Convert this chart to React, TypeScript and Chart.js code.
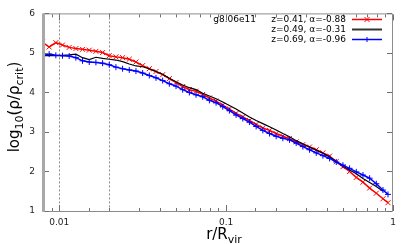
import React, { useEffect, useRef } from 'react';
import { Chart, registerables } from 'chart.js';

Chart.register(...registerables);

// r / R_vir sample radii
const radii = [
  0.00794, 0.00871, 0.00955, 0.01047, 0.01148, 0.01259, 0.0138, 0.01514, 0.0166, 0.0182,
  0.01995, 0.02188, 0.02399, 0.0263, 0.02884, 0.03162, 0.03467, 0.03802, 0.04169, 0.04571,
  0.05012, 0.05495, 0.06026, 0.06607, 0.07244, 0.07943, 0.0871, 0.0955, 0.1047, 0.1148,
  0.1259, 0.138, 0.1514, 0.166, 0.182, 0.1995, 0.2188, 0.2399, 0.263, 0.2884,
  0.3162, 0.3467, 0.3802, 0.4169, 0.4571, 0.5012, 0.5495, 0.6026, 0.6607, 0.7244,
  0.7943, 0.871, 0.9333,
];

const redValues = [
  5.27, 5.15, 5.26, 5.2, 5.14, 5.11, 5.09, 5.07, 5.04, 5.01,
  4.93, 4.9, 4.88, 4.84, 4.77, 4.68, 4.6, 4.53, 4.45, 4.35,
  4.25, 4.15, 4.07, 4.03, 3.95, 3.86, 3.78, 3.68, 3.58, 3.47,
  3.38, 3.29, 3.19, 3.1, 3.04, 2.96, 2.89, 2.83, 2.75, 2.68,
  2.62, 2.55, 2.47, 2.39, 2.25, 2.12, 2.0, 1.85, 1.73, 1.58,
  1.45, 1.31, 1.21,
];

const blackValues = [
  4.93, 4.93, 4.93, 4.94, 4.95, 4.97, 4.88, 4.83, 4.89, 4.86,
  4.84, 4.82, 4.78, 4.72, 4.67, 4.65, 4.6, 4.53, 4.46, 4.36,
  4.27, 4.19, 4.12, 4.07, 3.98, 3.91, 3.84, 3.76, 3.67, 3.58,
  3.48, 3.38, 3.29, 3.21, 3.13, 3.05, 2.96, 2.88, 2.78, 2.7,
  2.62, 2.54, 2.46, 2.37, 2.25, 2.14, 2.04, 1.94, 1.82, 1.72,
  1.62, 1.5, null,
];

const blueValues = [
  4.93, 4.97, 4.94, 4.93, 4.92, 4.88, 4.8, 4.77, 4.76, 4.74,
  4.7, 4.64, 4.6, 4.57, 4.54, 4.49, 4.43, 4.37, 4.3, 4.22,
  4.16, 4.07, 4.0, 3.94, 3.89, 3.8, 3.74, 3.64, 3.54, 3.43,
  3.34, 3.25, 3.14, 3.04, 2.96, 2.89, 2.84, 2.8, 2.72, 2.63,
  2.55, 2.47, 2.4, 2.33, 2.24, 2.16, 2.08, 1.99, 1.91, 1.83,
  1.69, 1.53, 1.42,
];

const seriesLabels = ['z=0.41, α=-0.88', 'z=0.49, α=-0.31', 'z=0.69, α=-0.96'];
const seriesColors = ['#ff0000', '#000000', '#0000ff'];
const haloName = 'g8.06e11';
const markerRadii = [0.01, 0.02];
const xRange = [0.008, 1];
const yRange = [1, 6];

const FONT = '"DejaVu Sans", sans-serif';

type Seg = { t: string; sub?: boolean };
const yTitle: Seg[] = [{ t: 'log' }, { t: '10', sub: true }, { t: '(ρ/ρ' }, { t: 'crit', sub: true }, { t: ')' }];
const xTitle: Seg[] = [{ t: 'r/R' }, { t: 'vir', sub: true }];

function drawSegs(ctx: CanvasRenderingContext2D, segs: Seg[], cx: number, baseline: number) {
  const big = `15px ${FONT}`;
  const small = `11px ${FONT}`;
  let total = 0;
  const widths = segs.map((s) => {
    ctx.font = s.sub ? small : big;
    const w = ctx.measureText(s.t).width;
    total += w;
    return w;
  });
  let x = cx - total / 2;
  ctx.textAlign = 'left';
  ctx.textBaseline = 'alphabetic';
  segs.forEach((s, i) => {
    ctx.font = s.sub ? small : big;
    ctx.fillText(s.t, x, baseline + (s.sub ? 4 : 0));
    x += widths[i];
  });
}

function isDecade(v: number) {
  const l = Math.log10(v);
  return Math.abs(l - Math.round(l)) < 1e-6;
}

const framePlugin = {
  id: 'gnuFrame',
  beforeDatasetsDraw(chart: any) {
    const { ctx, chartArea: a, scales } = chart;
    const x = scales.x;
    ctx.save();
    ctx.strokeStyle = '#8a8a8a';
    ctx.lineWidth = 1;
    ctx.setLineDash([2, 2]);
    markerRadii.forEach((r) => {
      const px = Math.round(x.getPixelForValue(r)) + 0.5;
      ctx.beginPath();
      ctx.moveTo(px, a.top);
      ctx.lineTo(px, a.bottom);
      ctx.stroke();
    });
    ctx.restore();
  },
  afterDraw(chart: any) {
    const { ctx, chartArea: a, scales } = chart;
    const x = scales.x;
    const y = scales.y;
    ctx.save();
    // frame
    ctx.strokeStyle = '#8c8c8c';
    ctx.lineWidth = 1;
    ctx.beginPath();
    ctx.moveTo(a.left, a.top + 0.5);
    ctx.lineTo(a.right - 0.5, a.top + 0.5);
    ctx.lineTo(a.right - 0.5, a.bottom + 0.5);
    ctx.lineTo(a.left, a.bottom + 0.5);
    ctx.stroke();
    ctx.strokeStyle = '#a8a8a8';
    ctx.lineWidth = 3;
    ctx.beginPath();
    ctx.moveTo(a.left + 0.5, a.top);
    ctx.lineTo(a.left + 0.5, a.bottom + 1);
    ctx.stroke();

    // ticks
    ctx.strokeStyle = '#707070';
    ctx.lineWidth = 1;
    x.ticks.forEach((t: any) => {
      const px = Math.round(x.getPixelForValue(t.value)) + 0.5;
      if (px < a.left + 2 || px > a.right + 1) return;
      const len = isDecade(t.value) ? 6 : 3;
      ctx.beginPath();
      ctx.moveTo(px, a.bottom);
      ctx.lineTo(px, a.bottom - len);
      ctx.moveTo(px, a.top + 1);
      ctx.lineTo(px, a.top + 1 + len);
      ctx.stroke();
    });
    y.ticks.forEach((t: any) => {
      const py = Math.round(y.getPixelForValue(t.value)) + 0.5;
      ctx.beginPath();
      ctx.moveTo(a.left + 2, py);
      ctx.lineTo(a.left + 6, py);
      ctx.moveTo(a.right - 1, py);
      ctx.lineTo(a.right - 6, py);
      ctx.stroke();
    });

    // axis titles
    ctx.fillStyle = '#000';
    drawSegs(ctx, xTitle, 224, 239);
    ctx.save();
    ctx.translate(19, 107);
    ctx.rotate(-Math.PI / 2);
    drawSegs(ctx, yTitle, 0, 0);
    ctx.restore();

    // key
    ctx.font = `9px ${FONT}`;
    ctx.fillStyle = '#000';
    ctx.textAlign = 'right';
    ctx.textBaseline = 'middle';
    ctx.fillText(haloName, 256, 19.5);
    const rows = [19.5, 29.5, 39.5];
    chart.data.datasets.forEach((ds: any, i: number) => {
      const ry = rows[i];
      ctx.fillStyle = '#000';
      ctx.textAlign = 'right';
      ctx.fillText(ds.label, 346, ry);
      ctx.strokeStyle = i === 1 ? '#333' : ds.borderColor;
      ctx.lineWidth = i === 1 ? 2 : 1.5;
      ctx.setLineDash([]);
      ctx.beginPath();
      ctx.moveTo(352, ry);
      ctx.lineTo(382, ry);
      ctx.stroke();
      if (ds.pointStyle !== false && ds.pointRadius > 0) {
        const cx = 367;
        const r = 2.5;
        ctx.lineWidth = 1;
        ctx.beginPath();
        if (ds.pointStyle === 'crossRot') {
          ctx.moveTo(cx - r, ry - r);
          ctx.lineTo(cx + r, ry + r);
          ctx.moveTo(cx - r, ry + r);
          ctx.lineTo(cx + r, ry - r);
        } else {
          ctx.moveTo(cx - r, ry);
          ctx.lineTo(cx + r, ry);
          ctx.moveTo(cx, ry - r);
          ctx.lineTo(cx, ry + r);
        }
        ctx.stroke();
      }
    });
    ctx.restore();
  },
};

export default function App() {
  const canvasRef = useRef<HTMLCanvasElement | null>(null);

  useEffect(() => {
    const canvas = canvasRef.current;
    if (!canvas) return;
    const toPoints = (vals: (number | null)[]) => radii.map((r, i) => ({ x: r, y: vals[i] }));
    const chart = new Chart(canvas, {
      type: 'line',
      data: {
        datasets: [
          {
            label: seriesLabels[0],
            data: toPoints(redValues) as any,
            borderColor: seriesColors[0],
            backgroundColor: seriesColors[0],
            borderWidth: 1.5,
            pointStyle: 'crossRot',
            pointRadius: 3.5,
            pointBorderWidth: 1,
            pointBorderColor: seriesColors[0],
            tension: 0,
            order: 2,
          },
          {
            label: seriesLabels[1],
            data: toPoints(blackValues) as any,
            borderColor: seriesColors[1],
            backgroundColor: seriesColors[1],
            borderWidth: 1.2,
            pointRadius: 0,
            tension: 0,
            order: 1,
          },
          {
            label: seriesLabels[2],
            data: toPoints(blueValues) as any,
            borderColor: seriesColors[2],
            backgroundColor: seriesColors[2],
            borderWidth: 1.5,
            pointStyle: 'cross',
            pointRadius: 3,
            pointBorderWidth: 1,
            pointBorderColor: seriesColors[2],
            tension: 0,
            order: 0,
          },
        ],
      },
      options: {
        animation: false,
        responsive: false,
        maintainAspectRatio: false,
        layout: { padding: { left: 0, top: 9, right: 14, bottom: 0 } },
        plugins: {
          legend: { display: false },
          tooltip: { enabled: false },
          title: { display: false },
        },
        scales: {
          x: {
            type: 'logarithmic',
            min: xRange[0],
            max: xRange[1],
            grid: { display: false, drawTicks: false },
            border: { display: false },
            ticks: {
              autoSkip: false,
              maxRotation: 0,
              padding: 6,
              color: '#222',
              font: { family: FONT, size: 9 },
              callback: (v: any) => (isDecade(Number(v)) ? String(Number(v)) : ''),
            },
            afterFit: (s: any) => {
              s.height = 33;
            },
          },
          y: {
            type: 'linear',
            min: yRange[0],
            max: yRange[1],
            grid: { display: false, drawTicks: false },
            border: { display: false },
            ticks: {
              stepSize: 1,
              padding: 8,
              color: '#222',
              font: { family: FONT, size: 9 },
            },
            afterFit: (s: any) => {
              s.width = 43;
            },
          },
        },
      },
      plugins: [framePlugin],
    });
    return () => chart.destroy();
  }, []);

  return (
    <div style={{ position: 'absolute', left: 0, top: 0, width: 407, height: 244, background: '#fff' }}>
      <canvas ref={canvasRef} width={407} height={244} style={{ display: 'block' }} />
    </div>
  );
}
